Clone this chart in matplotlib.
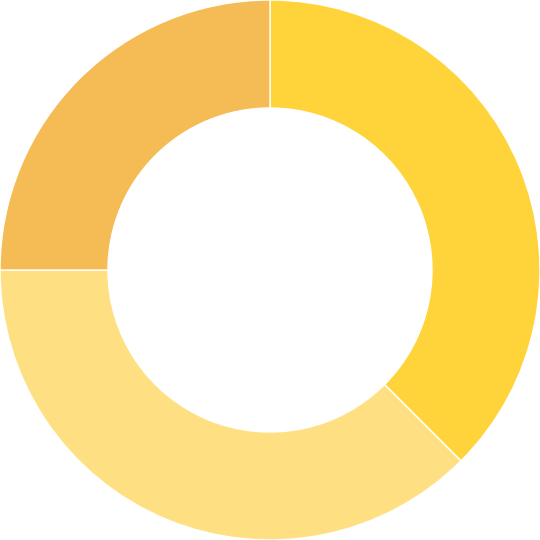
import matplotlib
matplotlib.use('Agg')
from matplotlib import pyplot as plt

# Slice values (clockwise from top)
labels = ['A', 'B', 'C']
values = [37.5, 37.5, 25]
colors = ['#FFD43A', '#FEE083', '#F5BC55']

fig = plt.figure(figsize=(5.4, 5.4), dpi=100)
ax = fig.add_axes([0, 0, 1, 1])
ax.pie(values, colors=colors, startangle=90, counterclock=False,
       radius=1.0,
       wedgeprops=dict(width=0.4, edgecolor='white', linewidth=1))
ax.set_xlim(-1.0, 1.0)
ax.set_ylim(-1.0, 1.0)
ax.set_aspect('equal')
ax.axis('off')
fig.savefig('out.png', dpi=100, facecolor='white')
